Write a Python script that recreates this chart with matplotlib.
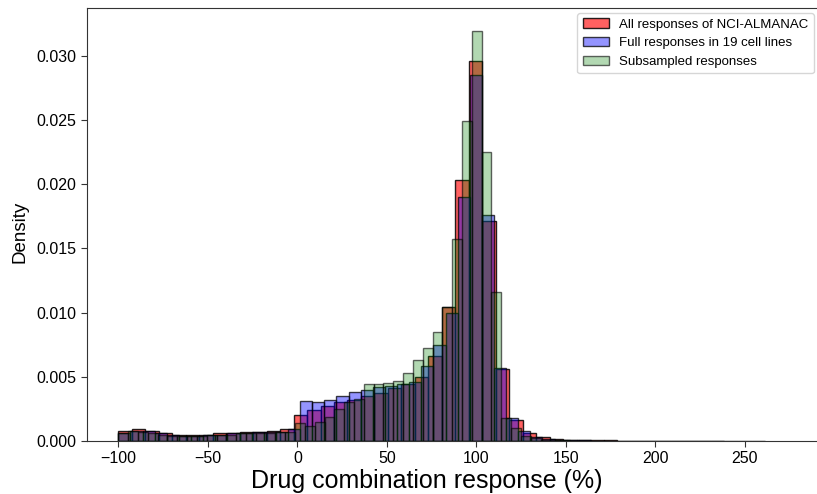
import numpy as np
import matplotlib
matplotlib.use("Agg")
import matplotlib.pyplot as plt

plt.rcParams['font.family'] = ['Liberation Sans', 'DejaVu Sans']

# ---- data (density per bin) ----
labels = ["All responses of NCI-ALMANAC", "Full responses in 19 cell lines", "Subsampled responses"]

red_start, red_width = -100.0, 7.53
red_density = [0.0008, 0.0009, 0.0008, 0.0006, 0.0005, 0.0005, 0.0005, 0.0006, 0.0006, 0.0007,
               0.0007, 0.0008, 0.0009, 0.0020, 0.0024, 0.0027, 0.0030, 0.0032, 0.0035, 0.0037,
               0.0041, 0.0044, 0.0050, 0.0066, 0.0104, 0.0203, 0.0296, 0.0171, 0.0056, 0.0016,
               0.0006, 0.0003, 0.00015, 0.0001, 0.00006, 0.00005, 0.00004, 0.00003, 0.00003, 0.00002,
               0.00002, 0.00002, 0.00001, 0.00001, 0.00001, 0.00001, 0.00001, 0.00001]

blue_start, blue_width = -100.0, 6.77
blue_density = [0.0006, 0.0008, 0.0008, 0.0006, 0.0005, 0.0004, 0.0004, 0.0005, 0.0005, 0.0006,
                0.0006, 0.0007, 0.0007, 0.0007, 0.0009, 0.0031, 0.0030, 0.0032, 0.0035, 0.0038,
                0.0040, 0.0042, 0.0043, 0.0044, 0.0046, 0.0058, 0.0075, 0.0100, 0.0190, 0.0285,
                0.0176, 0.0057, 0.0018, 0.0008, 0.0003, 0.00015, 0.0001, 0.00006, 0.00004, 0.00003,
                0.00002, 0.00002, 0.00001, 0.00001, 0.00001, 0.00001, 0.0, 0.0, 0.0, 0.00001]

green_start, green_width = -100.0, 5.486
green_density = [0.0006, 0.0008, 0.0007, 0.0006, 0.0005, 0.0004, 0.0004, 0.0004, 0.0004, 0.0005,
                 0.0005, 0.0005, 0.0006, 0.0006, 0.0006, 0.0006, 0.0007, 0.0007, 0.0014, 0.0012,
                 0.0015, 0.0019, 0.0025, 0.0030, 0.0033, 0.0044, 0.0044, 0.0045, 0.0047, 0.0053,
                 0.0063, 0.0072, 0.0085, 0.0104, 0.0157, 0.0249, 0.0319, 0.0225, 0.0116, 0.0018,
                 0.0010, 0.0004, 0.0002, 0.0001, 0.00005, 0.00004, 0.00003, 0.00002, 0.00001, 0.00001]

x_ticks = [-100, -50, 0, 50, 100, 150, 200, 250]
y_ticks = [0.000, 0.005, 0.010, 0.015, 0.020, 0.025, 0.030]

series = [
    (red_start, red_width, red_density, (1.0, 0.0, 0.0, 0.62), (0, 0, 0, 0.85)),
    (blue_start, blue_width, blue_density, (0.0, 0.0, 1.0, 0.42), (0, 0, 0, 0.75)),
    (green_start, green_width, green_density, (0.0, 0.5, 0.0, 0.3), (0, 0, 0, 0.6)),
]

fig = plt.figure(figsize=(8.17, 4.94), dpi=100)
ax = fig.add_axes([87/817, 1 - 441/494, (822 - 87)/817, (441 - 8)/494])

for (start, width, dens, face, edge), lab in zip(series, labels):
    dens = np.asarray(dens)
    lefts = start + width * np.arange(len(dens))
    ax.bar(lefts, dens, width=width, align='edge', facecolor=face,
           edgecolor=edge, linewidth=1.0, label=lab)

ax.set_xlim(-117.5, 293.1)
ax.set_ylim(0, 0.0337)
ax.set_xticks(x_ticks)
ax.set_yticks(y_ticks)
ax.set_yticklabels([f"{v:.3f}" for v in y_ticks])
ax.tick_params(axis='both', labelsize=11.5, length=4, width=0.8, colors='#333333', labelcolor='black')
for s in ax.spines.values():
    s.set_linewidth(0.8)
    s.set_color('#333333')

ax.set_xlabel("Drug combination response (%)", fontsize=18)
ax.xaxis.set_label_coords((427 - 87) / (822 - 87), -0.065)
ax.set_ylabel("Density", fontsize=13.5)
ax.yaxis.set_label_coords((29 - 87) / (822 - 87), (441 - 232) / 433)

leg = ax.legend(loc='upper right', bbox_to_anchor=(814/817, 1 - 13/494), bbox_transform=fig.transFigure,
                fontsize=9.5, frameon=True, fancybox=True, borderpad=0.4, handlelength=2.0,
                labelspacing=0.5, borderaxespad=0)
leg.get_frame().set_edgecolor('#cccccc')

fig.savefig("out.png", dpi=100)
